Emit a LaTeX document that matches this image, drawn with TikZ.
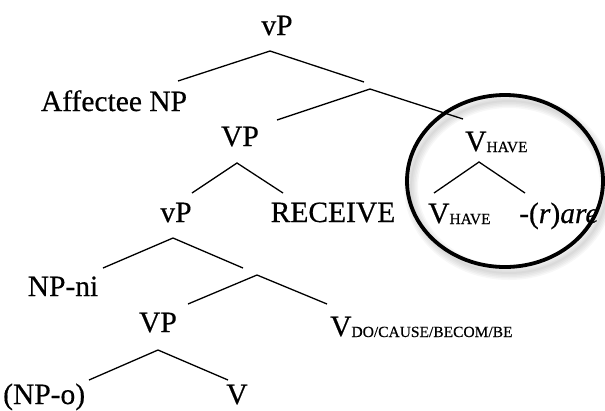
\documentclass[tikz,border=0pt]{standalone}
\usepackage{fontspec}
\setmainfont{Liberation Serif}[UprightFeatures={FakeBold=0.5},ItalicFeatures={FakeBold=0.5}]
% little v with a small-capital feature subscript
\newcommand\lightv[1]{V{\fontsize{15.5bp}{17bp}\selectfont\raisebox{-1bp}{#1}}}
\begin{document}
\begin{tikzpicture}[x=1bp,y=-1bp,
  lbl/.style={anchor=base, inner sep=0pt, font=\fontsize{29.5bp}{33bp}\selectfont},
  lblw/.style={lbl, anchor=base west},
  branch/.style={line width=1.3bp},
  ring/.style={line width=3.8bp, black}]
\useasboundingbox (0,0) rectangle (605,410);

% soft shadow under the ring around the have-head
\foreach \w in {14,11,8,5,2}{
  \draw[black, opacity=0.03, line width=\w bp] (509,187) ellipse [x radius=98, y radius=86];
}
\draw[ring, fill=none] (505,181) ellipse [x radius=98, y radius=86];

% labels
\node[lbl]  (vP1)    at (277,35)  {vP};
\node[lbl]  (aff)    at (114,111) {Affectee NP};
\node[lbl]  (VP1)    at (240,146) {VP};
\node[lblw] (vhave1) at (465,151) {\lightv{HAVE}};
\node[lbl]  (vP2)    at (176,222) {vP};
\node[lbl]  (rec)    at (333,222) {RECEIVE};
\node[lblw] (vhave2) at (428,223) {\lightv{HAVE}};
\node[lblw] (rare)   at (519,223) {-(\textit{r})\textit{are}};
\node[lbl]  (npni)   at (63,296)  {NP-ni};
\node[lbl]  (VP2)    at (158,332) {VP};
\node[lblw] (vdo)    at (330,336) {\lightv{DO/CAUSE/BECOM/BE}};
\node[lblw] (npo)    at (3,404)   {(NP-o)};
\node[lbl]  (V)      at (237,404) {V};

% branching points and branch ends
\coordinate (b1) at (270,51);  \coordinate (b1l) at (178,81);  \coordinate (b1r) at (364,82);
\coordinate (b2) at (370,89);  \coordinate (b2l) at (277,120); \coordinate (b2r) at (463,119);
\coordinate (b3) at (479,162); \coordinate (b3l) at (434,193); \coordinate (b3r) at (525,193);
\coordinate (b4) at (237,163); \coordinate (b4l) at (192,193); \coordinate (b4r) at (283,193);
\coordinate (b5) at (173,238); \coordinate (b5l) at (103,268); \coordinate (b5r) at (243,268);
\coordinate (b6) at (257,275); \coordinate (b6l) at (188,304); \coordinate (b6r) at (327,304);
\coordinate (b7) at (158,350); \coordinate (b7l) at (89,380);  \coordinate (b7r) at (228,380);

\foreach \b in {b1,b2,b3,b4,b5,b6,b7}{
  \draw[branch] (\b l) -- (\b) -- (\b r);
}
\end{tikzpicture}
\end{document}
